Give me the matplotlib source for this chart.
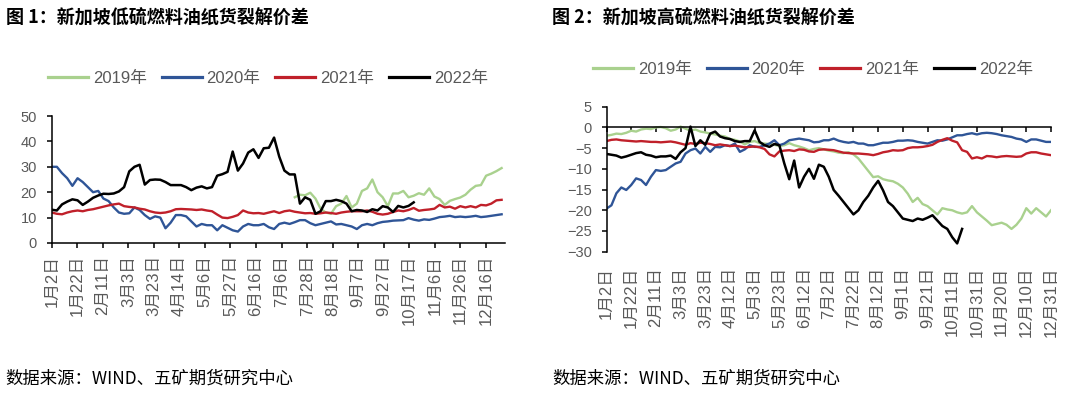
import numpy as np
import matplotlib
matplotlib.use("Agg")
import matplotlib.pyplot as plt

# ---------------- data ----------------
left_title = "图 1：新加坡低硫燃料油纸货裂解价差"
right_title = "图 2：新加坡高硫燃料油纸货裂解价差"
source_text = "数据来源：WIND、五矿期货研究中心"
series_names = ["2019年", "2020年", "2021年", "2022年"]

left_xlabels = ["1月2日", "1月22日", "2月11日", "3月3日", "3月23日", "4月14日", "5月6日",
                "5月27日", "6月16日", "7月6日", "7月28日", "8月18日", "9月7日", "9月27日",
                "10月17日", "11月6日", "11月26日", "12月16日"]
right_xlabels = ["1月2日", "1月22日", "2月11日", "3月3日", "3月23日", "4月12日", "5月3日",
                 "5月23日", "6月12日", "7月2日", "7月22日", "8月12日", "9月1日", "9月21日",
                 "10月11日", "10月31日", "11月20日", "12月10日", "12月31日"]

# left chart (low sulphur), sampled every ~4 trading days
L_2019_start = 47
L_2019 = [18, 19, 18.8, 19.8, 17.5, 13.5, 12, 11.5, 14.5, 15.5, 18.5, 14, 15.5, 20.5, 21.5,
          25, 20, 18, 14.5, 19.5, 19.5, 20.5, 18, 18.6, 19.6, 19, 21.5, 18.3, 17.3, 15, 16.6,
          17.3, 17.9, 19, 21, 22.5, 22.8, 26.5, 27.3, 28.3, 29.5]
L_2020 = [30, 30, 27.5, 25.5, 22.5, 25.5, 24, 22, 20, 20.5, 17.5, 16.5, 14, 12, 11.5, 11.7,
          14, 13, 11, 9.5, 10.5, 10, 5.8, 8, 11, 11, 10.5, 8.5, 6.5, 7.5, 7, 7, 5, 7, 6, 5,
          4.5, 6.5, 7.5, 7, 7, 7.5, 6.2, 5.5, 7.5, 8, 7.5, 8.2, 9, 9, 7.8, 7, 7.5, 8, 8.5,
          7.3, 7.5, 7, 6.5, 5.5, 7, 7.5, 7, 7.8, 8.3, 8.5, 8.8, 8.9, 9, 9.8, 9.2, 8.8, 9.3,
          9.1, 9.6, 10.2, 10.4, 10.7, 10.2, 10.4, 10.2, 10.4, 10.7, 10.2, 10.4, 10.7, 11, 11.3]
L_2021 = [12, 11.5, 11.3, 12, 12.5, 12.8, 12.5, 13, 13.3, 13.8, 14.3, 14.8, 15.2, 15.5, 14.5,
          14.2, 14, 13.5, 13.2, 12.5, 12, 11.8, 12, 12.5, 13.3, 13.4, 13.3, 13.2, 13, 13.2,
          12.8, 12.5, 11.2, 10, 9.8, 10.3, 11, 12.8, 12, 11.7, 11.8, 11.5, 12, 12.5, 11.8,
          12.5, 12.8, 12.3, 12, 11.7, 11.8, 11.5, 11.7, 12, 11.8, 11.5, 12, 12.3, 12.5, 12.5,
          12.5, 12.8, 12.3, 11.5, 11.2, 11.5, 12.2, 12.8, 12.5, 13, 13.8, 12.7, 13, 13.2,
          13.5, 15, 14, 14.3, 13.5, 14.5, 14, 14.5, 14, 15, 14.8, 15.5, 16.8, 17]
L_2022 = [13.1, 12.8, 15.2, 16.3, 17.2, 16.8, 15, 16.3, 17.8, 18.7, 19.4, 19.3, 19.5, 20.3,
          22, 28.2, 30, 30.8, 23, 24.8, 25, 24.9, 24, 22.8, 22.8, 22.8, 22, 20.8, 21.8, 22.3,
          21.5, 22, 26.5, 27.1, 28, 36, 28.5, 31.3, 35.6, 36.9, 33.5, 37.3, 37.5, 41.5, 34,
          28.5, 27, 27, 15.5, 18, 17, 11.5, 12.5, 16.5, 16.5, 17, 16.5, 15.5, 12.5, 13, 12.8,
          12.2, 13.3, 12.8, 14.5, 14, 12.2, 14.6, 14, 14.6, 16]

# right chart (high sulphur), sampled every 4 trading days
R_2019 = [-2.0, -1.8, -1.5, -1.6, -1.3, -0.8, -1.0, -0.5, -0.3, -0.4, 0.0, 0.1, -0.2, -0.8,
          -0.5, 0.2, -0.3, -0.8, -0.5, -1.0, -1.2, -1.5, -1.7, -2.0, -2.2, -2.8, -3.0, -3.4,
          -4.1, -3.5, -3.3, -3.8, -3.9, -4.0, -4.2, -4.5, -4.3, -3.8, -4.3, -4.6, -5.0, -5.5,
          -5.2, -5.0, -5.3, -5.6, -5.8, -6.1, -6.2, -6.0, -6.5, -7.5, -9.0, -10.5, -12.0,
          -11.8, -12.5, -12.8, -13.0, -13.6, -14.5, -16.0, -18.0, -17.0, -18.5, -19.0, -20.0,
          -21.0, -19.5, -19.8, -20.0, -20.5, -20.8, -20.5, -19.0, -20.5, -21.5, -22.5, -23.6,
          -23.3, -23.0, -23.5, -24.5, -23.5, -22.0, -19.5, -20.8, -19.5, -20.5, -21.5, -20.0]
R_2020 = [-19.6, -18.8, -15.9, -14.5, -15.1, -13.9, -12.3, -12.7, -13.9, -11.9, -10.3, -10.5,
          -10.3, -9.5, -8.7, -8.3, -6.3, -5.5, -5.1, -6.3, -4.7, -5.9, -4.7, -4.8, -4.3, -4.5,
          -3.9, -5.9, -5.3, -4.3, -4.7, -4.7, -4.3, -3.9, -3.1, -4.3, -3.9, -3.1, -2.9, -2.7,
          -2.9, -3.1, -3.6, -3.5, -3.1, -3.1, -2.7, -3.2, -3.5, -3.7, -3.5, -3.9, -3.9, -4.3,
          -4.3, -4.0, -3.7, -3.7, -3.5, -3.2, -3.2, -3.1, -3.2, -3.5, -3.7, -3.9, -3.5, -3.1,
          -3.2, -2.9, -2.4, -1.9, -1.9, -1.6, -1.4, -1.7, -1.4, -1.3, -1.4, -1.6, -1.9, -2.1,
          -2.3, -2.7, -2.9, -3.5, -2.9, -2.9, -3.2, -3.5, -3.5]
R_2021 = [-3.3, -3.0, -2.9, -3.1, -3.2, -3.3, -3.4, -3.3, -3.4, -3.5, -3.5, -3.6, -3.5, -3.4,
          -3.6, -3.9, -4.2, -3.8, -4.0, -3.7, -3.8, -4.0, -4.3, -4.1, -4.3, -4.5, -4.4, -4.6,
          -4.8, -4.7, -4.6, -4.8, -5.2, -6.5, -7.0, -5.8, -5.6, -5.5, -5.7, -5.3, -5.4, -5.8,
          -5.9, -5.4, -5.3, -5.4, -5.5, -5.8, -6.1, -6.2, -6.3, -6.3, -6.4, -6.5, -6.7, -6.4,
          -6.0, -5.8, -5.5, -5.6, -5.5, -5.0, -4.8, -4.8, -4.7, -4.5, -4.2, -3.5, -3.0, -2.6,
          -3.2, -3.6, -5.5, -5.9, -7.5, -7.2, -7.5, -6.9, -7.0, -7.2, -7.0, -6.9, -7.0, -7.1,
          -7.0, -6.3, -6.0, -6.0, -6.3, -6.5, -6.7]
R_2022 = [-6.4, -6.6, -6.8, -7.3, -7.0, -6.6, -6.2, -6.0, -6.6, -6.8, -7.2, -7.0, -7.0, -6.8,
          -7.6, -6.0, -5.0, 0.2, -4.5, -3.1, -4.2, -1.5, -1.0, -2.2, -2.6, -2.8, -3.3, -3.5,
          -3.3, -3.3, -0.7, -3.5, -4.3, -4.7, -4.0, -4.3, -8.7, -12.5, -8.0, -14.5, -11.9,
          -10.0, -12.4, -9.0, -9.5, -11.9, -15.1, -16.5, -18.0, -19.5, -21.0, -20.0, -18.0,
          -16.5, -14.5, -12.9, -15.2, -18.0, -19.0, -20.5, -22.0, -22.3, -22.6, -22.0, -22.3,
          -21.8, -21.2, -22.5, -23.8, -24.5, -26.5, -28.0, -24.5]

colors = ["#A9D18E", "#2F5597", "#C0202A", "#000000"]

# ---------------- style ----------------
CJK = "Noto Sans CJK SC"
LAT = "Liberation Sans"
GRAY = "#595959"

fig = plt.figure(figsize=(10.8, 3.93), dpi=100)
W, H = 1080, 393


def px_axes(x0, y_top, x1, y_bot):
    return [x0 / W, 1 - y_bot / H, (x1 - x0) / W, (y_bot - y_top) / H]


def style_common(ax):
    for s in ["top", "right"]:
        ax.spines[s].set_visible(False)
    for s in ["left", "bottom"]:
        ax.spines[s].set_linewidth(1.1)
        ax.spines[s].set_color("black")
    ax.tick_params(axis="y", direction="out", length=3.5, width=1.1, pad=7,
                   labelsize=10.5, labelcolor=GRAY)


# ---------------- left chart ----------------
L_STEP = 4.05
ax1 = fig.add_axes(px_axes(51.7, 116, 505, 243))
ax1.plot(np.arange(L_2019_start, L_2019_start + len(L_2019)) * L_STEP, L_2019,
         color=colors[0], lw=1.7, label=series_names[0])
ax1.plot(np.arange(len(L_2020)) * L_STEP, L_2020, color=colors[1], lw=1.7, label=series_names[1])
ax1.plot(np.arange(len(L_2021)) * L_STEP, L_2021, color=colors[2], lw=1.7, label=series_names[2])
ax1.plot(np.arange(len(L_2022)) * L_STEP, L_2022, color=colors[3], lw=1.8, label=series_names[3])
ax1.set_xlim(0, 355)
ax1.set_ylim(0, 50)
ax1.set_yticks(np.arange(0, 51, 10))
style_common(ax1)
ax1.set_xticks(np.arange(len(left_xlabels)) * 20)
ax1.set_xticklabels(left_xlabels, rotation=90, fontsize=12, color=GRAY, family=[LAT, CJK])
ax1.tick_params(axis="x", direction="out", length=3.5, width=1.1, pad=5)
for lab in ax1.get_yticklabels():
    lab.set_family([LAT, CJK])

leg1 = ax1.legend(loc="center", bbox_to_anchor=(268 / W, 1 - 78 / H),
                  bbox_transform=fig.transFigure, ncol=4, frameon=False,
                  prop={"family": [LAT, CJK], "size": 12}, handlelength=2.4,
                  handletextpad=0.3, columnspacing=0.9)
for t in leg1.get_texts():
    t.set_color(GRAY)
for h in leg1.get_lines():
    h.set_linewidth(2.3)

# ---------------- right chart ----------------
R_STEP = 4
ax2 = fig.add_axes(px_axes(606.5, 106.7, 1051, 251.7))
ax2.plot(np.arange(len(R_2019)) * R_STEP, R_2019, color=colors[0], lw=1.7, label=series_names[0])
ax2.plot(np.arange(len(R_2020)) * R_STEP, R_2020, color=colors[1], lw=1.7, label=series_names[1])
ax2.plot(np.arange(len(R_2021)) * R_STEP, R_2021, color=colors[2], lw=1.7, label=series_names[2])
ax2.plot(np.arange(len(R_2022)) * R_STEP, R_2022, color=colors[3], lw=1.8, label=series_names[3])
ax2.set_xlim(0, 360)
ax2.set_ylim(-30, 5)
ax2.set_yticks(np.arange(-30, 6, 5))
style_common(ax2)
ax2.spines["bottom"].set_position(("data", 0))
rticks = np.arange(len(right_xlabels)) * 20
ax2.set_xticks(rticks)
ax2.tick_params(axis="x", direction="out", length=3.5, width=1.1, labelbottom=False)
sec = ax2.secondary_xaxis("bottom")
sec.set_xticks(rticks)
sec.set_xticklabels(right_xlabels, rotation=90, fontsize=12, color=GRAY, family=[LAT, CJK])
sec.tick_params(axis="x", length=0, pad=11)
sec.spines["bottom"].set_visible(False)
for lab in ax2.get_yticklabels():
    lab.set_family([LAT, CJK])

leg2 = ax2.legend(loc="center", bbox_to_anchor=(813 / W, 1 - 69 / H),
                  bbox_transform=fig.transFigure, ncol=4, frameon=False,
                  prop={"family": [LAT, CJK], "size": 12}, handlelength=2.4,
                  handletextpad=0.3, columnspacing=0.9)
for t in leg2.get_texts():
    t.set_color(GRAY)
for h in leg2.get_lines():
    h.set_linewidth(2.3)

# ---------------- texts ----------------
fig.text(6 / W, 1 - 18 / H, left_title, ha="left", va="center", fontsize=13,
         fontweight="bold", family=[CJK])
fig.text(552 / W, 1 - 18 / H, right_title, ha="left", va="center", fontsize=13,
         fontweight="bold", family=[CJK])
fig.text(5 / W, 1 - 379 / H, source_text, ha="left", va="center", fontsize=12.5, family=[CJK])
fig.text(552 / W, 1 - 379 / H, source_text, ha="left", va="center", fontsize=12.5, family=[CJK])

fig.savefig("out.png", dpi=100)
